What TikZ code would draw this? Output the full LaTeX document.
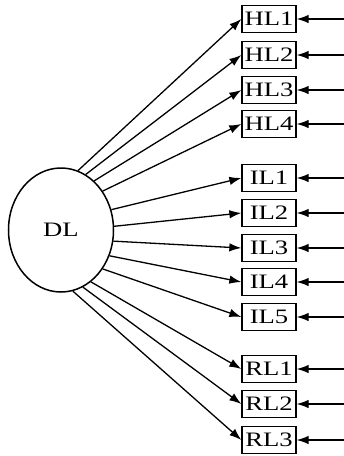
\documentclass[tikz,border=0pt]{standalone}
\usepackage{fontspec}
\setmainfont{Liberation Serif}
\usetikzlibrary{arrows.meta,shapes.geometric}
\begin{document}
\begin{tikzpicture}[x=1pt,y=-1pt,
  ind/.style={draw,line width=1.3pt,minimum width=54pt,minimum height=27pt,inner sep=0pt,font=\fontsize{20.5}{20.5}\selectfont},
  lat/.style={draw,ellipse,line width=1.5pt,minimum width=105pt,minimum height=124pt,inner sep=0pt,font=\fontsize{20.5}{20.5}\selectfont},
  ld/.style={line width=1.3pt,-{Latex[length=12pt,width=8.5pt]}}]
\useasboundingbox (0,0) rectangle (344,456);
\node[lat] (DL) at (61,230) {\scalebox{1.3}[1]{DL}};
\foreach \n/\y/\a in {HL1/19/74,HL2/55/66,HL3/90/56,HL4/124/43,IL1/178/22,IL2/213/4,IL3/248/-12,IL4/282/-28,IL5/317/-43,RL1/369/-60,RL2/404/-69,RL3/440/-79}{
  \node[ind] (\n) at (269,\y) {\scalebox{1.3}[1]{\n}};
  \coordinate (e\n) at (344,\y);
  \draw[ld] (DL.\a) -- (\n.west);
  \draw[ld] (e\n) -- (\n.east);
}
\end{tikzpicture}
\end{document}
